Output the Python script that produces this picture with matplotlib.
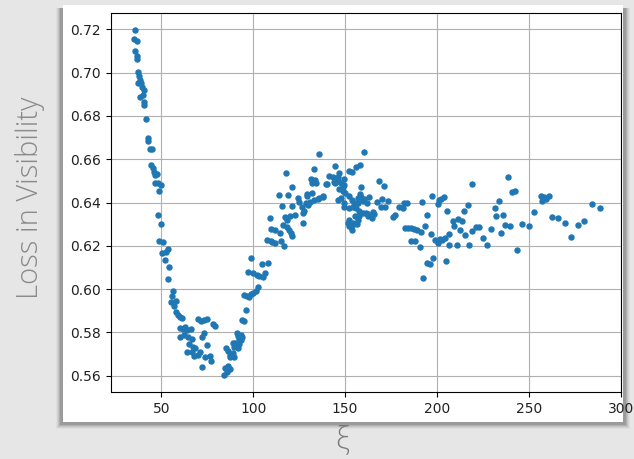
import matplotlib.pyplot as plt
from matplotlib.patches import Rectangle

# descending branch
xi_left = [35.8, 35.1, 36.6, 35.8, 36.7, 36.7, 37.4, 38.0, 38.3, 37.2, 39.0, 39.5, 40.3, 38.2,
           40.0, 40.5, 40.5, 41.5, 42.6, 42.9, 43.8, 44.8, 44.2, 45.3, 46.0, 46.7, 47.5, 46.7,
           48.2, 49.7, 48.6, 48.2, 49.7, 48.9, 50.8, 50.4, 52.6, 53.8, 52.2, 54.4, 53.7, 56.2,
           55.5, 58.0, 55.1, 56.9, 58.0, 58.8, 60.2, 61.3, 60.2, 61.7, 63.1, 64.2, 66.1, 60.2,
           62.4, 64.6, 66.6, 65.0, 67.2, 64.2, 66.4, 68.4, 70.8, 67.9, 69.7, 71.9, 69.7, 71.6,
           73.4, 74.8, 73.4, 72.3, 74.8, 73.7, 76.3, 77.0, 78.1, 79.4]
loss_left = [0.7197, 0.7154, 0.7146, 0.7100, 0.7077, 0.7064, 0.7004, 0.6985, 0.6968, 0.6953,
             0.6950, 0.6933, 0.6920, 0.6887, 0.6897, 0.6866, 0.6850, 0.6787, 0.6698, 0.6685,
             0.6648, 0.6648, 0.6573, 0.6558, 0.6542, 0.6527, 0.6531, 0.6489, 0.6492, 0.6481,
             0.6453, 0.6342, 0.6301, 0.6224, 0.6219, 0.6166, 0.6171, 0.6187, 0.6134, 0.6101,
             0.6045, 0.5991, 0.5968, 0.5946, 0.5940, 0.5922, 0.5896, 0.5880, 0.5873, 0.5865,
             0.5819, 0.5816, 0.5823, 0.5811, 0.5817, 0.5777, 0.5788, 0.5777, 0.5771, 0.5746,
             0.5734, 0.5709, 0.5709, 0.5727, 0.5711, 0.5691, 0.5696, 0.5642, 0.5863, 0.5851,
             0.5857, 0.5863, 0.5798, 0.5777, 0.5743, 0.5685, 0.5691, 0.5667, 0.5839, 0.5830]

# valley and rising branch
xi_rise = [84.3, 84.7, 86.5, 87.6, 85.8, 85.0, 86.5, 87.6, 89.4, 87.2, 89.1, 88.7, 90.2, 90.8,
           92.3, 91.6, 89.4, 91.2, 91.9, 93.1, 93.8, 92.3, 93.4, 94.1, 95.2, 96.3, 94.9, 96.7,
           97.8, 98.9, 97.4, 98.9, 100.0, 101.8, 100.0, 101.4, 102.5, 104.9, 108.2, 103.1,
           105.5, 106.6, 107.7, 109.8, 111.7, 114.9, 116.7, 110.4, 109.1, 116.4, 109.8, 111.7,
           114.6, 119.5, 120.4, 118.2, 121.3, 117.1, 120.0, 122.6, 118.2, 126.8, 114.0, 118.9,
           124.1, 125.0, 129.5, 129.9, 121.3, 115.9, 126.3, 127.4, 117.7, 121.3, 126.8]
loss_rise = [0.5603, 0.5636, 0.5645, 0.5630, 0.5619, 0.5728, 0.5716, 0.5697, 0.5688, 0.5688,
             0.5706, 0.5749, 0.5752, 0.5737, 0.5746, 0.5728, 0.5734, 0.5796, 0.5783, 0.5787,
             0.5780, 0.5768, 0.5765, 0.5857, 0.5851, 0.5903, 0.5973, 0.5968, 0.5962, 0.5977,
             0.6080, 0.6142, 0.6073, 0.6065, 0.5981, 0.5993, 0.6011, 0.6116, 0.6122, 0.6060,
             0.6054, 0.6073, 0.6227, 0.6224, 0.6212, 0.6224, 0.6199, 0.6219, 0.6328, 0.6296,
             0.6276, 0.6273, 0.6258, 0.6273, 0.6260, 0.6285, 0.6245, 0.6334, 0.6338, 0.6342,
             0.6319, 0.6304, 0.6433, 0.6433, 0.6419, 0.6404, 0.6430, 0.6390, 0.6385, 0.6384,
             0.6378, 0.6362, 0.6538, 0.6473, 0.6350]

# plateau
xi_top = [135.9, 160.5, 133.1, 144.6, 146.8, 152.3, 153.6, 156.0, 158.2, 141.4, 143.2, 131.3,
          133.5, 134.1, 131.7, 139.6, 144.5, 146.0, 147.8, 148.7, 129.2, 132.1, 137.7, 135.3,
          133.1, 131.0, 128.6, 146.8, 148.7, 149.9, 147.8, 149.6, 146.0, 152.3, 153.6, 155.0,
          156.9, 158.7, 160.5, 156.9, 156.0, 157.8, 159.6, 161.4, 162.7, 155.4, 156.9, 152.3,
          153.2, 151.4, 154.2, 152.3, 153.6, 156.5, 146.0, 143.8, 149.2, 149.6, 140.1, 135.9,
          138.2, 158.2, 163.2, 149.6, 152.3, 154.2, 155.0, 157.8]
loss_top = [0.6624, 0.6632, 0.6556, 0.6569, 0.6538, 0.6547, 0.6539, 0.6565, 0.6573, 0.6522,
            0.6516, 0.6507, 0.6504, 0.6489, 0.6492, 0.6485, 0.6492, 0.6501, 0.6492, 0.6473,
            0.6439, 0.6445, 0.6430, 0.6418, 0.6412, 0.6404, 0.6399, 0.6461, 0.6455, 0.6443,
            0.6420, 0.6399, 0.6412, 0.6430, 0.6412, 0.6399, 0.6420, 0.6424, 0.6415, 0.6397,
            0.6373, 0.6362, 0.6350, 0.6353, 0.6338, 0.6338, 0.6319, 0.6319, 0.6285, 0.6304,
            0.6307, 0.6291, 0.6273, 0.6301, 0.6519, 0.6496, 0.6507, 0.6481, 0.6484, 0.6419,
            0.6427, 0.6439, 0.6424, 0.6381, 0.6373, 0.6378, 0.6301, 0.6338]

# tail
xi_tail = [158.7, 168.2, 171.1, 159.6, 162.0, 167.5, 170.0, 171.8, 173.6, 169.6, 162.3, 165.1,
           165.9, 164.5, 176.0, 176.9, 179.1, 181.5, 182.0, 183.9, 192.1, 194.3, 197.4, 201.0,
           196.6, 198.8, 201.5, 182.4, 184.2, 186.0, 187.5, 189.3, 191.1, 193.3, 185.8, 188.3,
           190.6, 192.6, 194.3, 196.1, 198.1, 200.7, 202.5, 204.3, 204.7, 206.5, 206.5, 209.0,
           210.8, 212.5, 215.2, 217.6, 219.3, 221.1, 222.9, 224.8, 227.2, 229.4, 234.6, 237.1,
           240.0, 243.5, 246.2, 249.9, 269.6, 272.9, 276.5, 280.0, 219.3, 238.6, 240.8, 242.3,
           200.3, 202.1, 203.9, 205.2, 208.9, 211.2, 213.8, 214.9, 217.1, 231.7, 232.0, 233.8,
           236.2, 256.7, 258.1, 260.8, 259.5, 257.2, 284.5, 289.0, 252.9, 262.6, 265.9]
loss_tail = [0.6473, 0.6501, 0.6476, 0.6408, 0.6396, 0.6404, 0.6415, 0.6381, 0.6408, 0.6381,
             0.6347, 0.6358, 0.6347, 0.6327, 0.6332, 0.6342, 0.6381, 0.6373, 0.6399, 0.6396,
             0.6404, 0.6342, 0.6430, 0.6412, 0.6254, 0.6227, 0.6230, 0.6281, 0.6281, 0.6281,
             0.6276, 0.6273, 0.6265, 0.6291, 0.6224, 0.6224, 0.6196, 0.6050, 0.6119, 0.6114,
             0.6142, 0.6214, 0.6227, 0.6235, 0.6131, 0.6254, 0.6204, 0.6291, 0.6202, 0.6273,
             0.6249, 0.6202, 0.6268, 0.6285, 0.6285, 0.6235, 0.6202, 0.6276, 0.6261, 0.6296,
             0.6291, 0.6181, 0.6301, 0.6291, 0.6304, 0.6242, 0.6296, 0.6314, 0.6485, 0.6516,
             0.6447, 0.6455, 0.6393, 0.6415, 0.6424, 0.6362, 0.6316, 0.6322, 0.6316, 0.6360,
             0.6388, 0.6373, 0.6338, 0.6408, 0.6342, 0.6430, 0.6424, 0.6430, 0.6415, 0.6408,
             0.6392, 0.6376, 0.6358, 0.6334, 0.6328]

xi = xi_left + xi_rise + xi_top + xi_tail
loss = loss_left + loss_rise + loss_top + loss_tail

W, H = 634, 459
fig = plt.figure(figsize=(W / 100, H / 100), dpi=100, facecolor='#e6e6e6')

# card with soft shadow (falls mostly down and to the sides), drawn beneath the axes
for i, a in enumerate([0.03, 0.05, 0.07, 0.09, 0.12]):
    d = 7 - i
    fig.patches.append(Rectangle(((63 - d) / W, 1 - (422 + d) / H), (560 + 2 * d) / W, (414 + d) / H,
                                 transform=fig.transFigure, facecolor='black', alpha=a, lw=0, zorder=-3))
fig.patches.append(Rectangle((63 / W, 1 - 422 / H), 560 / W, 417 / H,
                             transform=fig.transFigure, facecolor='white', lw=0, zorder=-1))

ax = fig.add_axes([110.7 / W, 1 - 392.3 / H, 510 / W, 379.6 / H])
ax.scatter(xi, loss, s=13, color='#1f77b4', zorder=3)
ax.set_xlim(22.4, 300)
ax.set_ylim(0.5523, 0.7277)
ax.set_xticks([50, 100, 150, 200, 250, 300])
ax.set_yticks([0.56, 0.58, 0.60, 0.62, 0.64, 0.66, 0.68, 0.70, 0.72])
ax.grid(True, color='#b0b0b0', linewidth=0.8)
ax.set_axisbelow(True)
ax.tick_params(labelsize=10, labelcolor='#222222')

fig.text(30 / W, 1 - 198 / H, 'Loss in Visibility', rotation=90, ha='center', va='center',
         fontsize=21, color='#8a8a8a', family='Open Sans', weight='light')
fig.text(342 / W, 1 - 440 / H, 'ξ', ha='center', va='center',
         fontsize=22, color='#7a7a7a', family='Open Sans', weight='light')

fig.savefig('out.png', dpi=100, facecolor=fig.get_facecolor())
